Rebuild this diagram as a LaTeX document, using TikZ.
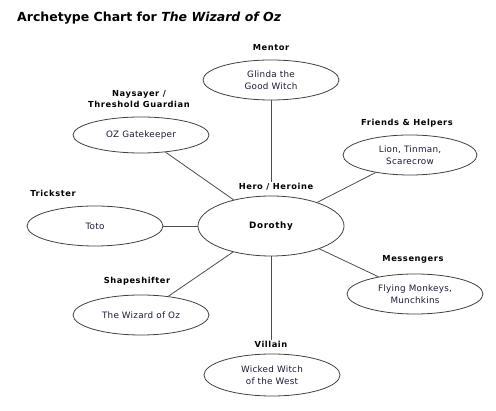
\documentclass[tikz,border=0pt]{standalone}
\usepackage{fontspec}
\setmainfont{DejaVu Sans}
\newfontfamily\labfont[LetterSpace=7]{DejaVu Sans}
\newfontfamily\ovalfont[LetterSpace=3]{DejaVu Sans}
\usetikzlibrary{shapes.geometric}
\definecolor{textcol}{HTML}{1A1A3A}
\begin{document}
\begin{tikzpicture}[x=1pt,y=-1pt,
  oval/.style={ellipse, draw=black!75, line width=0.8pt, inner sep=0pt,
    minimum width=136pt, minimum height=40pt,
    font=\ovalfont\fontsize{8.8}{11.5}\selectfont, text=textcol, align=center},
  lab/.style={font=\labfont\bfseries\fontsize{8.3}{11}\selectfont, align=center, inner sep=1pt},
  link/.style={draw=black!70, line width=0.8pt}]
\useasboundingbox (0,0) rectangle (496,411);
\node[anchor=west, inner sep=0pt, font=\bfseries\fontsize{12.5}{14}\selectfont] (title) at (17,18)
  {Archetype Chart for \textit{The Wizard of Oz}};

\node[oval, minimum width=146pt, minimum height=60pt, text=black, font=\labfont\bfseries\fontsize{8.8}{11}\selectfont] (dor) at (271,226) {Dorothy};
\node[lab] (ldor) at (276,187) {Hero / Heroine};

\node[oval] (gli) at (271,80) {Glinda the\\Good Witch};
\node[lab] (lgli) at (271,48) {Mentor};

\node[oval, minimum height=36pt] (gat) at (141,135) {OZ Gatekeeper};
\node[lab] (lgat) at (139,99) {Naysayer /\\Threshold Guardian};

\node[oval, minimum width=134pt] (lio) at (410,155) {Lion, Tinman,\\Scarecrow};
\node[lab] (llio) at (407,123) {Friends \& Helpers};

\node[oval] (tot) at (95,226) {Toto};
\node[lab] (ltot) at (53,193) {Trickster};

\node[oval] (fly) at (415,294) {Flying Monkeys,\\Munchkins};
\node[lab] (lfly) at (413,259) {Messengers};

\node[oval] (wiz) at (141,315) {The Wizard of Oz};
\node[lab] (lwiz) at (137,281) {Shapeshifter};

\node[oval, minimum height=42pt] (wit) at (272,375) {Wicked Witch\\of the West};
\node[lab] (lwit) at (271,344) {Villain};

\draw[link] (gli.south) -- (gli.south |- ldor.north);
\draw[link] (dor) -- (gat);
\draw[link] (dor) -- (lio);
\draw[link] (dor) -- (tot);
\draw[link] (dor) -- (fly);
\draw[link] (dor) -- (wiz);
\draw[link] (dor.south) -- (dor.south |- lwit.north);
\end{tikzpicture}
\end{document}
